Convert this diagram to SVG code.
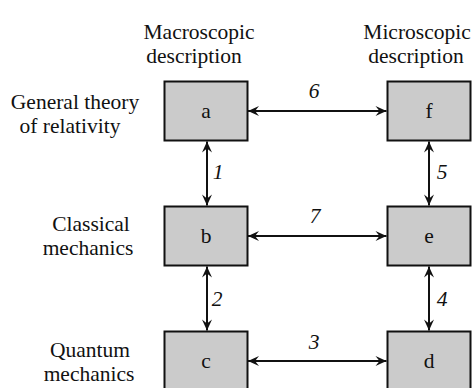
<svg xmlns="http://www.w3.org/2000/svg" width="475" height="388" viewBox="0 0 475 388">
<style>
text{font-family:"Liberation Serif","Times New Roman",serif;font-size:21.5px;fill:#111}
.c{text-anchor:middle}
.n{font-style:italic;text-anchor:middle}
.box{fill:#cbcbcb;stroke:#111;stroke-width:2}
.ln{stroke:#111;stroke-width:2;fill:none;marker-start:url(#ah);marker-end:url(#ah)}
</style>
<defs>
<marker id="ah" viewBox="-12 -6 13 12" markerWidth="13" markerHeight="12" refX="0" refY="0" orient="auto-start-reverse" markerUnits="userSpaceOnUse">
<path d="M0,0 L-11,-5 L-7,0 L-11,5 Z" fill="#111"/>
</marker>
</defs>
<g id="headers">
<text class="c" x="199" y="39">Macroscopic</text>
<text class="c" x="194" y="63">description</text>
<text class="c" x="417" y="39">Microscopic</text>
<text class="c" x="416" y="63">description</text>
</g>
<g id="row-labels">
<text class="c" x="75" y="109">General theory</text>
<text class="c" x="70" y="133">of relativity</text>
<text class="c" x="91" y="231">Classical</text>
<text class="c" x="88" y="255">mechanics</text>
<text class="c" x="90" y="357">Quantum</text>
<text class="c" x="89" y="381">mechanics</text>
</g>
<g id="connectors">
<line class="ln" x1="248" y1="111" x2="386.5" y2="111"/>
<line class="ln" x1="248" y1="236" x2="386.5" y2="236"/>
<line class="ln" x1="248" y1="361" x2="386.5" y2="361"/>
<line class="ln" x1="207" y1="141.5" x2="207" y2="205.5"/>
<line class="ln" x1="207" y1="266.5" x2="207" y2="330.5"/>
<line class="ln" x1="429" y1="141.5" x2="429" y2="205.5"/>
<line class="ln" x1="429" y1="266.5" x2="429" y2="330.5"/>
<text class="n" x="314" y="98">6</text>
<text class="n" x="315" y="223">7</text>
<text class="n" x="314" y="349">3</text>
<text class="n" x="218" y="179">1</text>
<text class="n" x="442" y="179">5</text>
<text class="n" x="217" y="306">2</text>
<text class="n" x="442" y="306">4</text>
</g>
<g id="node-a"><rect class="box" x="164.5" y="81.5" width="83" height="59"/><text class="c" x="206" y="118">a</text></g>
<g id="node-f"><rect class="box" x="387.5" y="81.5" width="83" height="59"/><text class="c" x="429" y="118">f</text></g>
<g id="node-b"><rect class="box" x="164.5" y="206.5" width="83" height="59"/><text class="c" x="206" y="243">b</text></g>
<g id="node-e"><rect class="box" x="387.5" y="206.5" width="83" height="59"/><text class="c" x="429" y="243">e</text></g>
<g id="node-c"><rect class="box" x="164.5" y="331.5" width="83" height="59"/><text class="c" x="206" y="368">c</text></g>
<g id="node-d"><rect class="box" x="387.5" y="331.5" width="83" height="59"/><text class="c" x="429" y="368">d</text></g>
</svg>
